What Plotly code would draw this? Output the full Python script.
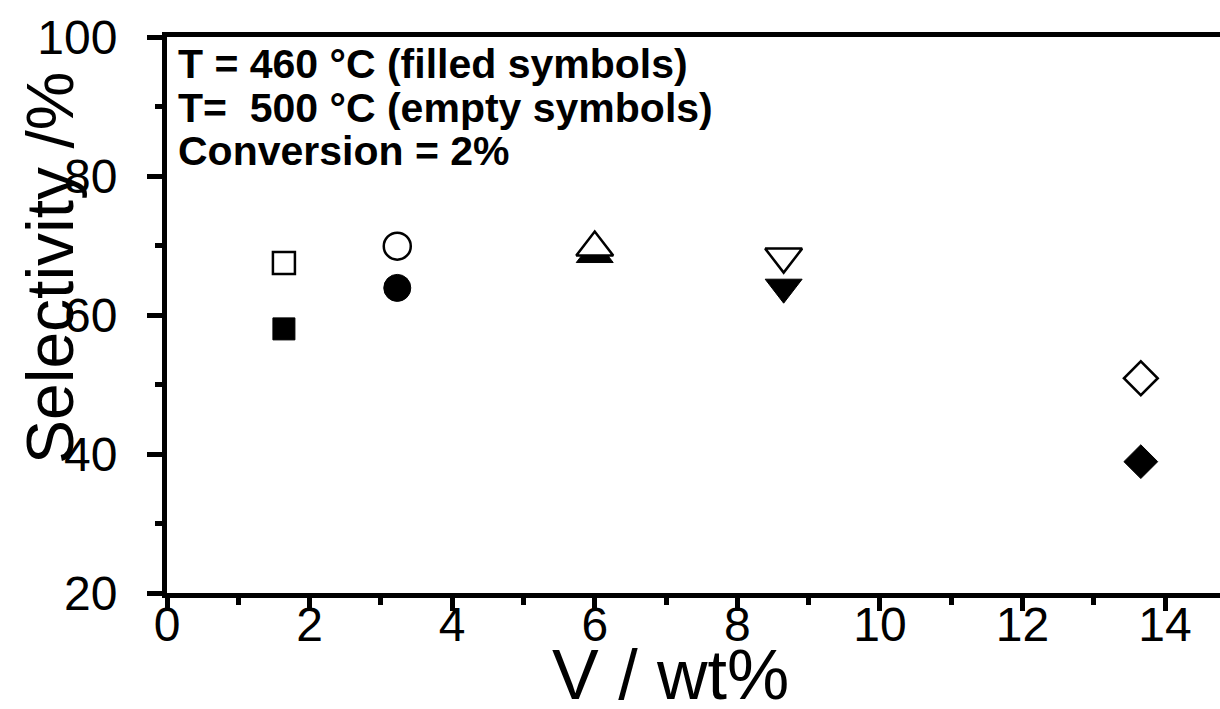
import plotly.graph_objects as go

# Data
symbols = ["square", "circle", "triangle-up", "triangle-down", "diamond"]
v_wt = [1.64, 3.23, 6.0, 8.65, 13.66]
sel_460 = [58.0, 63.9, 68.7, 64.0, 38.9]    # filled symbols
sel_500 = [67.5, 69.9, 69.7, 68.4, 50.9]    # empty symbols
sizes = [22, 27, 32, 32, 26]

x_ticks = [0, 2, 4, 6, 8, 10, 12, 14]
y_ticks = [20, 40, 60, 80, 100]
notes = ["T = 460 °C (filled symbols)", "T=  500 °C (empty symbols)", "Conversion = 2%"]

W, H = 1220, 709
L, R, T, B = 167, 0, 37, 116
pw, ph = W - L - R, H - T - B
FONT = "Arial, Liberation Sans, sans-serif"

def px(xp):
    return (xp - L) / pw

def py(yp):
    return (H - B - yp) / ph

fig = go.Figure()
for i, sym in enumerate(symbols):
    fig.add_trace(go.Scatter(
        x=[v_wt[i]], y=[sel_460[i]], mode="markers", showlegend=False,
        marker=dict(symbol=sym, size=sizes[i], color="black",
                    line=dict(color="black", width=1))))
for i, sym in enumerate(symbols):
    fig.add_trace(go.Scatter(
        x=[v_wt[i]], y=[sel_500[i]], mode="markers", showlegend=False,
        marker=dict(symbol=sym, size=sizes[i], color="white",
                    line=dict(color="black", width=2.5))))

annotations = []
for k, t in enumerate(notes):
    annotations.append(dict(
        text=t, xref="paper", yref="paper", x=px(176), y=py([64, 108, 151][k]),
        xanchor="left", yanchor="middle", showarrow=False,
        font=dict(family=FONT, size=41, color="black", weight="bold")))
annotations.append(dict(
    text="Selectivity /%", xref="paper", yref="paper", x=px(50), y=py(268),
    xanchor="center", yanchor="middle", textangle=-90, showarrow=False,
    font=dict(family=FONT, size=66, color="black")))
annotations.append(dict(
    text="V / wt%", xref="paper", yref="paper", x=px(670), y=py(675),
    xanchor="center", yanchor="middle", showarrow=False,
    font=dict(family=FONT, size=70, color="black")))

fig.update_layout(
    width=W, height=H,
    margin=dict(l=L, r=R, t=T, b=B, pad=0),
    paper_bgcolor="white", plot_bgcolor="white",
    annotations=annotations,
    xaxis=dict(
        range=[0, pw / 71.29], showgrid=False, zeroline=False,
        showline=True, linecolor="black", linewidth=5, mirror=True,
        tickmode="array", tickvals=x_ticks, ticktext=[str(v) for v in x_ticks],
        ticks="outside", ticklen=13, tickwidth=5, tickcolor="black",
        ticklabelstandoff=-28,
        tickfont=dict(family=FONT, size=48, color="black"),
        minor=dict(tickvals=[1, 3, 5, 7, 9, 11, 13], ticks="outside",
                   ticklen=7, tickwidth=5, tickcolor="black"),
    ),
    yaxis=dict(
        range=[20, 100], showgrid=False, zeroline=False,
        showline=True, linecolor="black", linewidth=5, mirror=False,
        tickmode="array", tickvals=y_ticks, ticktext=[str(v) for v in y_ticks],
        ticks="outside", ticklen=15, tickwidth=5, tickcolor="black",
        ticklabelstandoff=20,
        tickfont=dict(family=FONT, size=48, color="black"),
        minor=dict(tickvals=[30, 50, 70, 90], ticks="outside",
                   ticklen=7, tickwidth=5, tickcolor="black"),
    ),
)

fig.write_html("out.html")
